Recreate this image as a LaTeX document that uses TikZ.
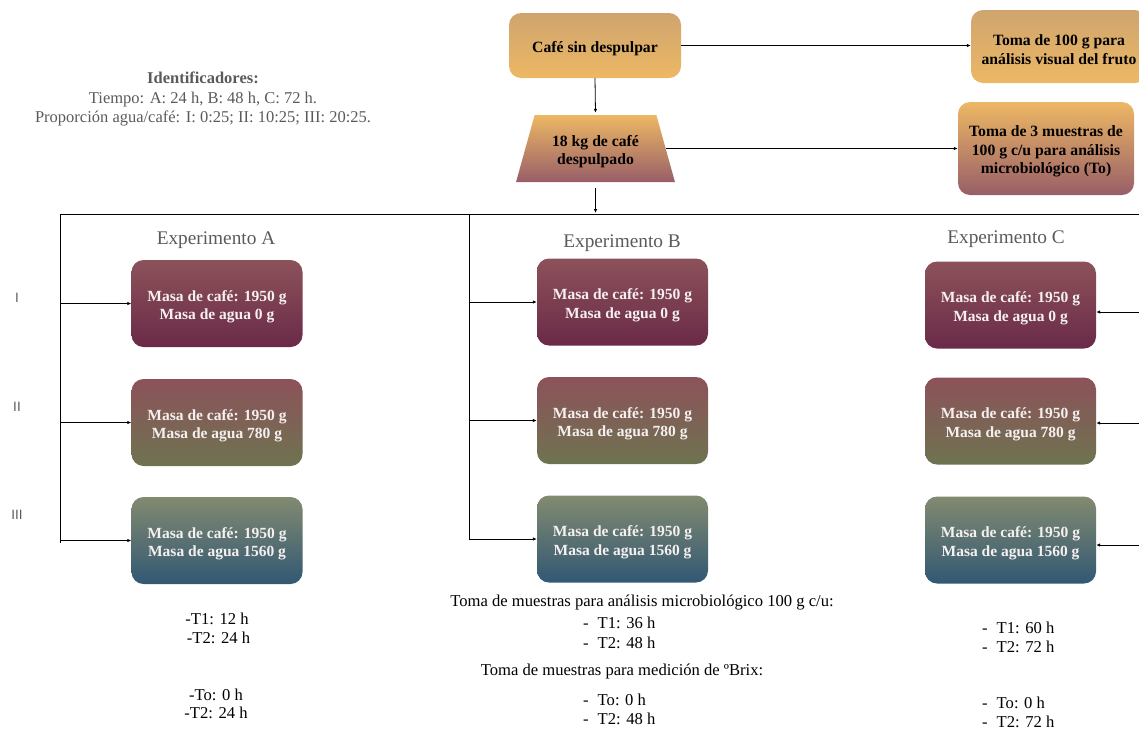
\documentclass[tikz,border=0pt]{standalone}
\usepackage{fontspec}
\setmainfont{Liberation Serif}
\newfontfamily\sansf{Liberation Sans}
\usetikzlibrary{arrows.meta,shapes.geometric}
\definecolor{orT}{RGB}{207,165,111}
\definecolor{orB}{RGB}{237,184,100}
\definecolor{mauve}{RGB}{152,94,104}
\definecolor{wineT}{RGB}{140,82,90}
\definecolor{wineB}{RGB}{106,42,72}
\definecolor{olive}{RGB}{110,115,80}
\definecolor{oliveT}{RGB}{130,138,112}
\definecolor{blueM}{RGB}{72,105,116}
\definecolor{blueB}{RGB}{50,88,115}
\definecolor{graytxt}{RGB}{90,90,90}
\definecolor{boxtxt}{RGB}{245,240,240}
\newcommand\dnstrut{\rule{0pt}{17pt}}
\tikzset{
  base/.style={rounded corners=12pt, align=center, inner sep=2pt},
  obox/.style={base, top color=orT, bottom color=orB, font=\bfseries\fontsize{15.7}{19.5}\selectfont},
  mbox/.style={base, top color=orB, bottom color=mauve, font=\bfseries\fontsize{15.7}{18.5}\selectfont},
  mass/.style={base, minimum width=171pt, minimum height=87pt, text=boxtxt, font=\bfseries\fontsize{15.5}{18.5}\selectfont},
  mI/.style={mass, top color=wineT, bottom color=wineB},
  mII/.style={mass, top color=wineT, bottom color=olive},
  mIII/.style={mass, top color=oliveT, middle color=blueM, bottom color=blueB},
  arr/.style={line width=0.8pt, -{Latex[length=4pt,width=3.5pt]}},
  ln/.style={line width=0.8pt},
  expl/.style={text=graytxt, font=\fontsize{19.3}{22}\selectfont},
  roman/.style={text=graytxt, font=\sansf\fontsize{13.5}{15}\selectfont},
  btxt/.style={font=\fontsize{16.6}{18.5}\selectfont, align=center},
  ltxt/.style={font=\fontsize{16.6}{19.5}\selectfont, align=left, anchor=west, inner sep=0pt}
}
\begin{document}
\begin{tikzpicture}[x=1pt,y=-1pt]
\useasboundingbox (0,0) rectangle (1139,729);
% top nodes
\node[obox, minimum width=172pt, minimum height=65pt] (cafe) at (595,45.5) {\dnstrut Café sin despulpar};
\node[obox, minimum width=176pt, minimum height=73pt] (toma1) at (1059,46.5) {\dnstrut Toma de 100 g para\\análisis visual del fruto};
\node[trapezium, trapezium angle=72.6, trapezium stretches=true, minimum width=159pt, minimum height=67pt,
      top color=orB, bottom color=mauve, align=center, font=\bfseries\fontsize{15.7}{18.5}\selectfont] (trap) at (595.5,148.5) {\dnstrut 18 kg de café\\despulpado};
\node[mbox, minimum width=176pt, minimum height=93pt] (toma3) at (1046,148.5) {\dnstrut Toma de 3 muestras de\\100 g c/u para análisis\\microbiológico (To)};
% identifiers
\node[text=graytxt, align=center, font=\fontsize{16.5}{19.7}\selectfont] (ident) at (203,99) {\textbf{Identificadores:}\\Tiempo: A: 24 h, B: 48 h, C: 72 h.\\Proporción agua/café: I: 0:25; II: 10:25; III: 20:25.};
% arrows top
\draw[arr] (cafe.east) -- (cafe.east -| toma1.west);
\draw[arr, shorten >=2pt] (cafe.south) -- (trap.north);
\draw[arr] (trap.east) -- (trap.east -| toma3.west);
\coordinate (busL) at (60,214);
\coordinate (busM) at (469,214);
\coordinate (busR) at (1141,214);
\coordinate (busT) at (595.5,214);
\draw[arr, shorten <=6pt, shorten >=1pt] (trap.south) -- (busT);
\draw[ln] (busL) -- (busR);
% experiment labels
\node[expl] (expA) at (216,240) {Experimento A};
\node[expl] (expB) at (622,243) {Experimento B};
\node[expl] (expC) at (1006,239) {Experimento C};
% roman
\node[roman] (rI) at (17,298) {I};
\node[roman] (rII) at (17,407) {II};
\node[roman] (rIII) at (17,515) {III};
% mass boxes
\node[mI]   (A1) at (217,303.5) {\dnstrut Masa de café: 1950 g\\Masa de agua 0 g};
\node[mII]  (A2) at (217,422.5) {\dnstrut Masa de café: 1950 g\\Masa de agua 780 g};
\node[mIII] (A3) at (217,540.5) {\dnstrut Masa de café: 1950 g\\Masa de agua 1560 g};
\node[mI]   (B1) at (622.5,302) {\dnstrut Masa de café: 1950 g\\Masa de agua 0 g};
\node[mII]  (B2) at (622.5,420.5) {\dnstrut Masa de café: 1950 g\\Masa de agua 780 g};
\node[mIII] (B3) at (622.5,539) {\dnstrut Masa de café: 1950 g\\Masa de agua 1560 g};
\node[mI]   (C1) at (1010.5,305) {\dnstrut Masa de café: 1950 g\\Masa de agua 0 g};
\node[mII]  (C2) at (1010.5,421) {\dnstrut Masa de café: 1950 g\\Masa de agua 780 g};
\node[mIII] (C3) at (1010.5,540) {\dnstrut Masa de café: 1950 g\\Masa de agua 1560 g};
% branches A
\coordinate (aEnd) at (60,543);
\draw[ln] (busL) -- (aEnd);
\draw[arr] (A1.west -| busL) -- (A1.west);
\draw[arr] (A2.west -| busL) -- (A2.west);
\draw[arr] (A3.west -| busL) -- (A3.west);
% branches B
\coordinate (bEnd) at (469,540);
\draw[ln] (busM) -- (bEnd);
\draw[arr] (B1.west -| busM) -- (B1.west);
\draw[arr] (B2.west -| busM) -- (B2.west);
\draw[arr] (B3.west -| busM) -- (B3.west);
% branches C
\coordinate (cEnd) at (1141,546);
\draw[ln] (busR) -- (cEnd);
\draw[arr] ([yshift=-7pt]C1.east -| busR) -- ([yshift=-7pt]C1.east);
\draw[arr] ([yshift=-2pt]C2.east -| busR) -- ([yshift=-2pt]C2.east);
\draw[arr] ([yshift=-5pt]C3.east -| busR) -- ([yshift=-5pt]C3.east);
% bottom texts A
\node[btxt] (ta1) at (217,628.5) {-T1: 12 h\\\hspace*{3pt}-T2: 24 h};
\node[btxt] (ta2) at (216,704) {-To: 0 h\\-T2: 24 h};
% bottom texts B
\node[btxt] (tb0) at (642,603) {Toma de muestras para análisis microbiológico 100 g c/u:};
\node[ltxt] (tb1) at (583,622.5) {-\hspace{9pt}T1: 36 h};
\node[ltxt] (tb2) at (583,642.5) {-\hspace{9pt}T2: 48 h};
\node[btxt] (tb3) at (622,671) {Toma de muestras para medición de ºBrix:};
\node[ltxt] (tb4) at (583,699.5) {-\hspace{9pt}To: 0 h};
\node[ltxt] (tb5) at (583,718.5) {-\hspace{9pt}T2: 48 h};
% bottom texts C
\node[ltxt] (tc1) at (982,627.5) {-\hspace{9pt}T1: 60 h};
\node[ltxt] (tc2) at (982,646.5) {-\hspace{9pt}T2: 72 h};
\node[ltxt] (tc3) at (982,702.5) {-\hspace{9pt}To: 0 h};
\node[ltxt] (tc4) at (982,722) {-\hspace{9pt}T2: 72 h};
\end{tikzpicture}
\end{document}
